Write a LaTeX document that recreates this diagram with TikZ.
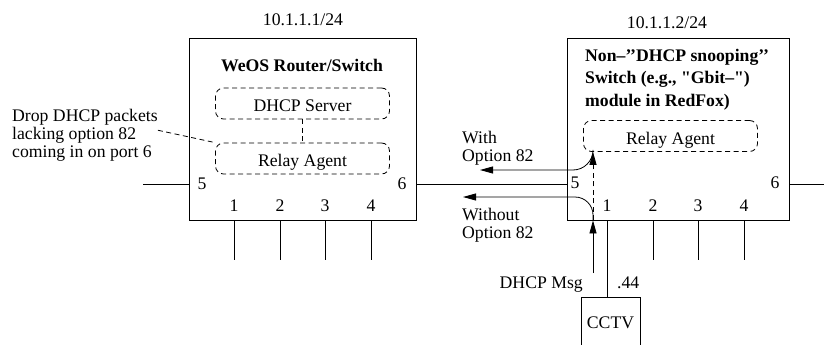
\documentclass[tikz,border=0pt]{standalone}
\usepackage{fontspec}
\setmainfont{Liberation Serif}[Ligatures=TeXOff]
\usetikzlibrary{arrows.meta,positioning}
\newcommand{\txt}{\fontsize{17.7}{18}\selectfont}
\tikzset{
  >={Triangle[length=13pt,width=7pt]},
  unit/.style={draw,line width=0.8pt,minimum width=#1,minimum height=182pt,inner sep=0pt},
  dsh/.style={dash pattern=on 5pt off 3.5pt},
  func/.style={draw,dsh,line width=0.8pt,rounded corners=8pt,minimum width=174pt,minimum height=31pt,
    text height=16pt,text depth=0pt,inner sep=0pt,font=\txt},
  port/.style={font=\txt,anchor=base,inner sep=0pt},
  lbl/.style={font=\txt,align=left,inner sep=0pt,anchor=north west},
  wire/.style={line width=0.8pt},
  flow/.style={->,line width=0.8pt},
}
\begin{document}
\begin{tikzpicture}[x=1pt,y=-1pt]
  \useasboundingbox (0,0) rectangle (824,345);
  % devices
  \node[unit=227pt] (router) at (302.5,129) {};
  \node[unit=222pt] (switch) at (678,129) {};
  \node[draw,line width=0.8pt,minimum width=59pt,minimum height=52pt,inner sep=0pt,font=\txt] (cctv) at (610.5,323) {CCTV};
  \node[port] (ip1) at (303,26) {10.1.1.1/24};
  \node[port] (ip2) at (667,28.5) {10.1.1.2/24};
  \node[port,font=\txt\bfseries] (rtitle) at (302,71) {WeOS Router/Switch};
  \node[lbl,font=\fontsize{17.7}{22.5}\selectfont\bfseries] (stitle) at (585,49)
    {Non–’’DHCP snooping’’\\Switch (e.g., "Gbit–")\\module in RedFox)};
  % functions
  \node[func] (srv) at (302.5,103.5) {DHCP Server};
  \node[func] (ra1) at (302.5,158.5) {Relay Agent};
  \node[func] (ra2) at (670.5,136) {Relay Agent};
  \draw[dsh,wire] (srv) -- (ra1);
  \node[lbl] (note) at (12,109) {Drop DHCP packets\\lacking option 82\\coming in on port 6};
  \draw[dsh,wire] ([yshift=5pt]note.east) -- (ra1.north west);
  % ports
  \node[port] (r5) at (202,189) {5};
  \node[port] (r6) at (402,189) {6};
  \node[port] (s5) at (575,188.5) {5};
  \node[port] (s6) at (775,188.5) {6};
  \foreach \n/\x in {1/234,2/280,3/325,4/371}
    \node[port] (r\n) at (\x,211) {\n};
  \foreach \n/\x in {1/607,2/653,3/698,4/744}
    \node[port] (s\n) at (\x,211) {\n};
  \foreach \p in {r1,r2,r3,r4}
    \draw[wire] (\p |- router.south) -- ++(0,40);
  \foreach \p in {s2,s3,s4}
    \draw[wire] (\p |- switch.south) -- ++(0,40);
  \draw[wire] (s1 |- switch.south) -- (s1 |- cctv.north);
  \coordinate (wl) at (143,184);
  \coordinate (wr) at (824,184);
  \draw[wire] (wl) -- (wl -| router.west);
  \draw[wire] (router.east |- wl) -- (switch.west |- wl);
  \draw[wire] (switch.east |- wl) -- (wr);
  % dhcp message paths
  \coordinate (src) at (593,273);
  \coordinate (wend) at (480,170);
  \coordinate (woend) at (463,197);
  \draw[flow] (src) -- (src |- switch.south);
  \draw[flow,dsh] (src |- switch.south) -- (src |- ra2.south);
  \draw[flow,rounded corners=20pt] (src |- ra2.south) |- (wend);
  \draw[flow,rounded corners=18pt] (src |- switch.south) |- (woend);
  \node[lbl] (with) at (462,131) {With\\Option 82};
  \node[lbl] (without) at (462,208) {Without\\Option 82};
  \node[port,anchor=base east] (msg) at (583,288) {DHCP Msg};
  \node[port,anchor=base west] (addr) at (617,288) {.44};
\end{tikzpicture}
\end{document}
